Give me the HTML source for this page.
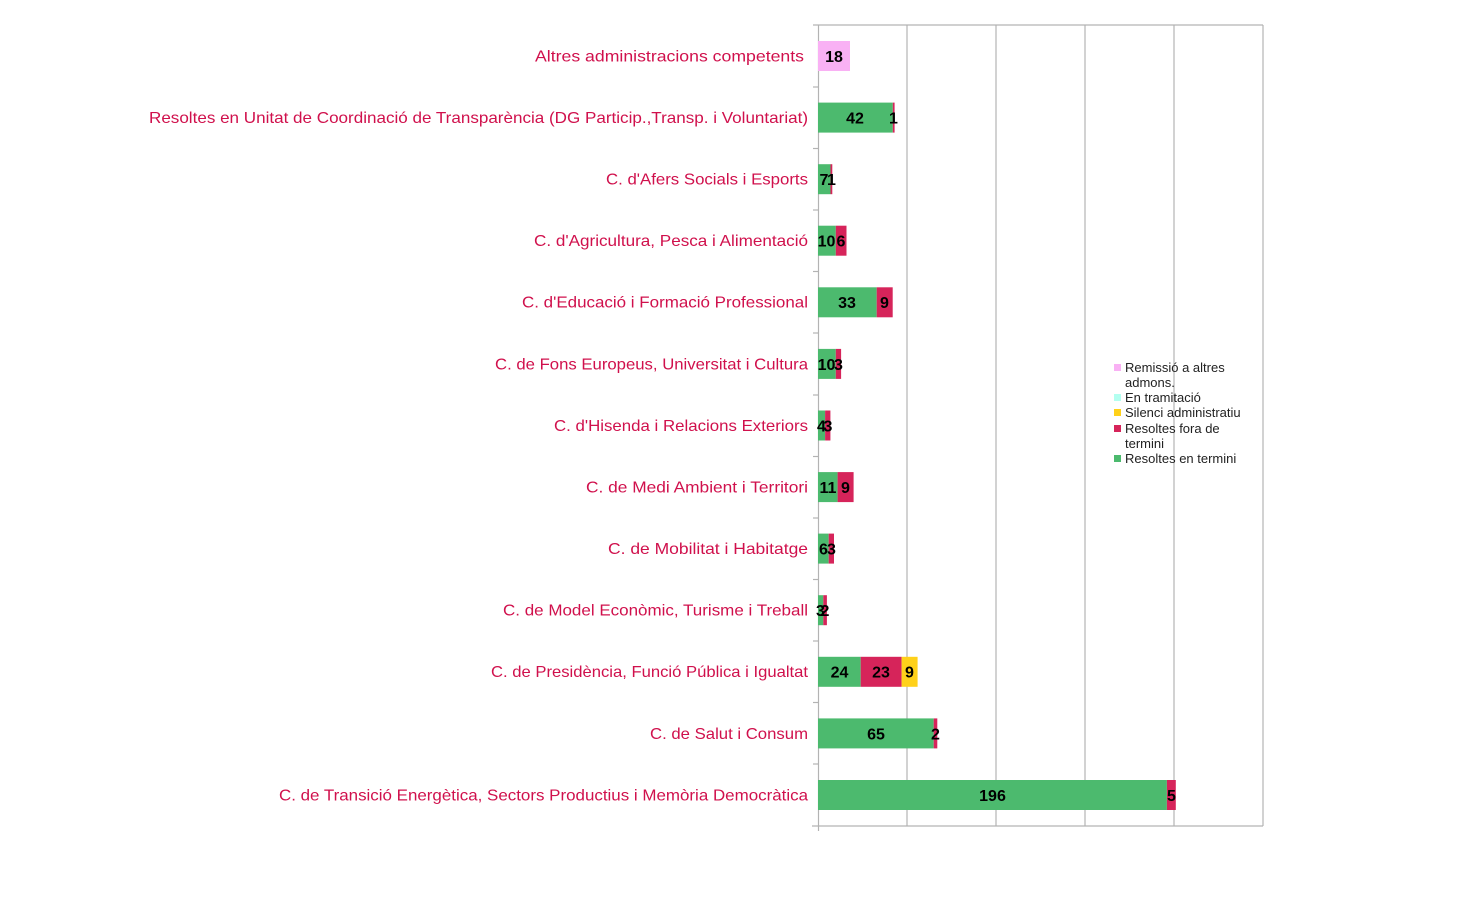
<!DOCTYPE html>
<html><head><meta charset="utf-8"><style>
body{margin:0;background:#fff;}
svg{display:block;}
.l{font-family:"Liberation Sans",sans-serif;font-size:16px;fill:#d0104c;text-anchor:end;}
.v{font-family:"Liberation Sans",sans-serif;font-size:16px;font-weight:bold;fill:#000;text-anchor:middle;}
.g{font-family:"Liberation Sans",sans-serif;font-size:13px;fill:#222;}
</style></head><body>
<svg width="1477" height="912" viewBox="0 0 1477 912" xmlns="http://www.w3.org/2000/svg" xml:space="preserve">
<g stroke="#b3b3b3" stroke-width="1.2" fill="none">
<line x1="907" y1="25" x2="907" y2="826"/><line x1="996" y1="25" x2="996" y2="826"/><line x1="1085" y1="25" x2="1085" y2="826"/><line x1="1174" y1="25" x2="1174" y2="826"/><line x1="1263" y1="25" x2="1263" y2="826"/>
<line x1="813" y1="25" x2="1263" y2="25"/>
<line x1="812" y1="826" x2="1263" y2="826"/>
<line x1="818.5" y1="25" x2="818.5" y2="831"/>
<line x1="813" y1="87" x2="818" y2="87"/><line x1="813" y1="148.5" x2="818" y2="148.5"/><line x1="813" y1="210" x2="818" y2="210"/><line x1="813" y1="271.5" x2="818" y2="271.5"/><line x1="813" y1="333" x2="818" y2="333"/><line x1="813" y1="395" x2="818" y2="395"/><line x1="813" y1="456.5" x2="818" y2="456.5"/><line x1="813" y1="518" x2="818" y2="518"/><line x1="813" y1="579.5" x2="818" y2="579.5"/><line x1="813" y1="641" x2="818" y2="641"/><line x1="813" y1="702.5" x2="818" y2="702.5"/><line x1="813" y1="764" x2="818" y2="764"/>
</g>
<g>
<rect x="818" y="41" width="32" height="30" fill="#f9b1f4"/>
<rect x="818" y="102.6" width="74.8" height="30" fill="#4cba6e"/><rect x="892.8" y="102.6" width="1.8" height="30" fill="#d6245a"/>
<rect x="818" y="164.2" width="12.5" height="30" fill="#4cba6e"/><rect x="830.5" y="164.2" width="1.8" height="30" fill="#d6245a"/>
<rect x="818" y="225.7" width="17.8" height="30" fill="#4cba6e"/><rect x="835.8" y="225.7" width="10.7" height="30" fill="#d6245a"/>
<rect x="818" y="287.3" width="58.7" height="30" fill="#4cba6e"/><rect x="876.7" y="287.3" width="16" height="30" fill="#d6245a"/>
<rect x="818" y="348.9" width="17.8" height="30" fill="#4cba6e"/><rect x="835.8" y="348.9" width="5.3" height="30" fill="#d6245a"/>
<rect x="818" y="410.5" width="7.1" height="30" fill="#4cba6e"/><rect x="825.1" y="410.5" width="5.3" height="30" fill="#d6245a"/>
<rect x="818" y="472.1" width="19.6" height="30" fill="#4cba6e"/><rect x="837.6" y="472.1" width="16" height="30" fill="#d6245a"/>
<rect x="818" y="533.6" width="10.7" height="30" fill="#4cba6e"/><rect x="828.7" y="533.6" width="5.3" height="30" fill="#d6245a"/>
<rect x="818" y="595.2" width="5.3" height="30" fill="#4cba6e"/><rect x="823.3" y="595.2" width="3.6" height="30" fill="#d6245a"/>
<rect x="818" y="656.8" width="42.7" height="30" fill="#4cba6e"/><rect x="860.7" y="656.8" width="40.9" height="30" fill="#d6245a"/><rect x="901.6" y="656.8" width="16" height="30" fill="#ffd11a"/>
<rect x="818" y="718.4" width="115.7" height="30" fill="#4cba6e"/><rect x="933.7" y="718.4" width="3.6" height="30" fill="#d6245a"/>
<rect x="818" y="780" width="348.9" height="30" fill="#4cba6e"/><rect x="1166.9" y="780" width="8.9" height="30" fill="#d6245a"/>
</g>
<g class="v">
<text x="834" y="62">18</text>
<text x="855" y="123.5">42</text><text x="893.5" y="123.5">1</text>
<text x="824" y="185">7</text><text x="831.5" y="185">1</text>
<text x="826.5" y="246.5">10</text><text x="841" y="246.5">6</text>
<text x="847" y="308">33</text><text x="884.5" y="308">9</text>
<text x="826.5" y="370">10</text><text x="838.5" y="370">3</text>
<text x="821.5" y="431.5">4</text><text x="828" y="431.5">3</text>
<text x="828" y="493">11</text><text x="845.5" y="493">9</text>
<text x="823.5" y="554.5">6</text><text x="831.5" y="554.5">3</text>
<text x="820.5" y="616">3</text><text x="825" y="616">2</text>
<text x="839.5" y="677.5">24</text><text x="881" y="677.5">23</text><text x="909.5" y="677.5">9</text>
<text x="876" y="739.5">65</text><text x="935.5" y="739.5">2</text>
<text x="992.5" y="801">196</text><text x="1171.5" y="801">5</text>
</g>
<g class="l">
<text x="804" y="61.5" textLength="269" lengthAdjust="spacingAndGlyphs">Altres  administracions competents</text>
<text x="808" y="123" textLength="659" lengthAdjust="spacingAndGlyphs">Resoltes  en Unitat de Coordinació de Transparència (DG Particip.,Transp. i Voluntariat)</text>
<text x="808" y="184.5" textLength="202" lengthAdjust="spacingAndGlyphs">C.  d'Afers Socials i Esports</text>
<text x="808" y="246" textLength="274" lengthAdjust="spacingAndGlyphs">C.  d'Agricultura, Pesca i Alimentació</text>
<text x="808" y="307.5" textLength="286" lengthAdjust="spacingAndGlyphs">C.  d'Educació i Formació Professional</text>
<text x="808" y="369.5" textLength="313" lengthAdjust="spacingAndGlyphs">C. de Fons Europeus, Universitat i Cultura</text>
<text x="808" y="431" textLength="254" lengthAdjust="spacingAndGlyphs">C.  d'Hisenda i Relacions Exteriors</text>
<text x="808" y="492.5" textLength="222" lengthAdjust="spacingAndGlyphs">C. de Medi Ambient i Territori</text>
<text x="808" y="554" textLength="200" lengthAdjust="spacingAndGlyphs">C.  de Mobilitat i Habitatge</text>
<text x="808" y="615.5" textLength="305" lengthAdjust="spacingAndGlyphs">C.  de Model Econòmic, Turisme i Treball</text>
<text x="808" y="677" textLength="317" lengthAdjust="spacingAndGlyphs">C. de Presidència, Funció Pública i Igualtat</text>
<text x="808" y="739" textLength="158" lengthAdjust="spacingAndGlyphs">C.  de Salut i Consum</text>
<text x="808" y="800.5" textLength="529" lengthAdjust="spacingAndGlyphs">C. de Transició Energètica, Sectors Productius i Memòria Democràtica</text>
</g>
<rect x="1114" y="364" width="7" height="7" fill="#f9b1f4"/>
<rect x="1114" y="394" width="7" height="7" fill="#b3fff0"/>
<rect x="1114" y="409" width="7" height="7" fill="#ffd11a"/>
<rect x="1114" y="425" width="7" height="7" fill="#d6245a"/>
<rect x="1114" y="455" width="7" height="7" fill="#4cba6e"/>
<g class="g">
<text x="1125" y="372">Remissió a altres</text>
<text x="1125" y="387">admons.</text>
<text x="1125" y="402">En tramitació</text>
<text x="1125" y="417">Silenci administratiu</text>
<text x="1125" y="433">Resoltes fora de</text>
<text x="1125" y="448">termini</text>
<text x="1125" y="463">Resoltes en termini</text>
</g>
</svg>
</body></html>
